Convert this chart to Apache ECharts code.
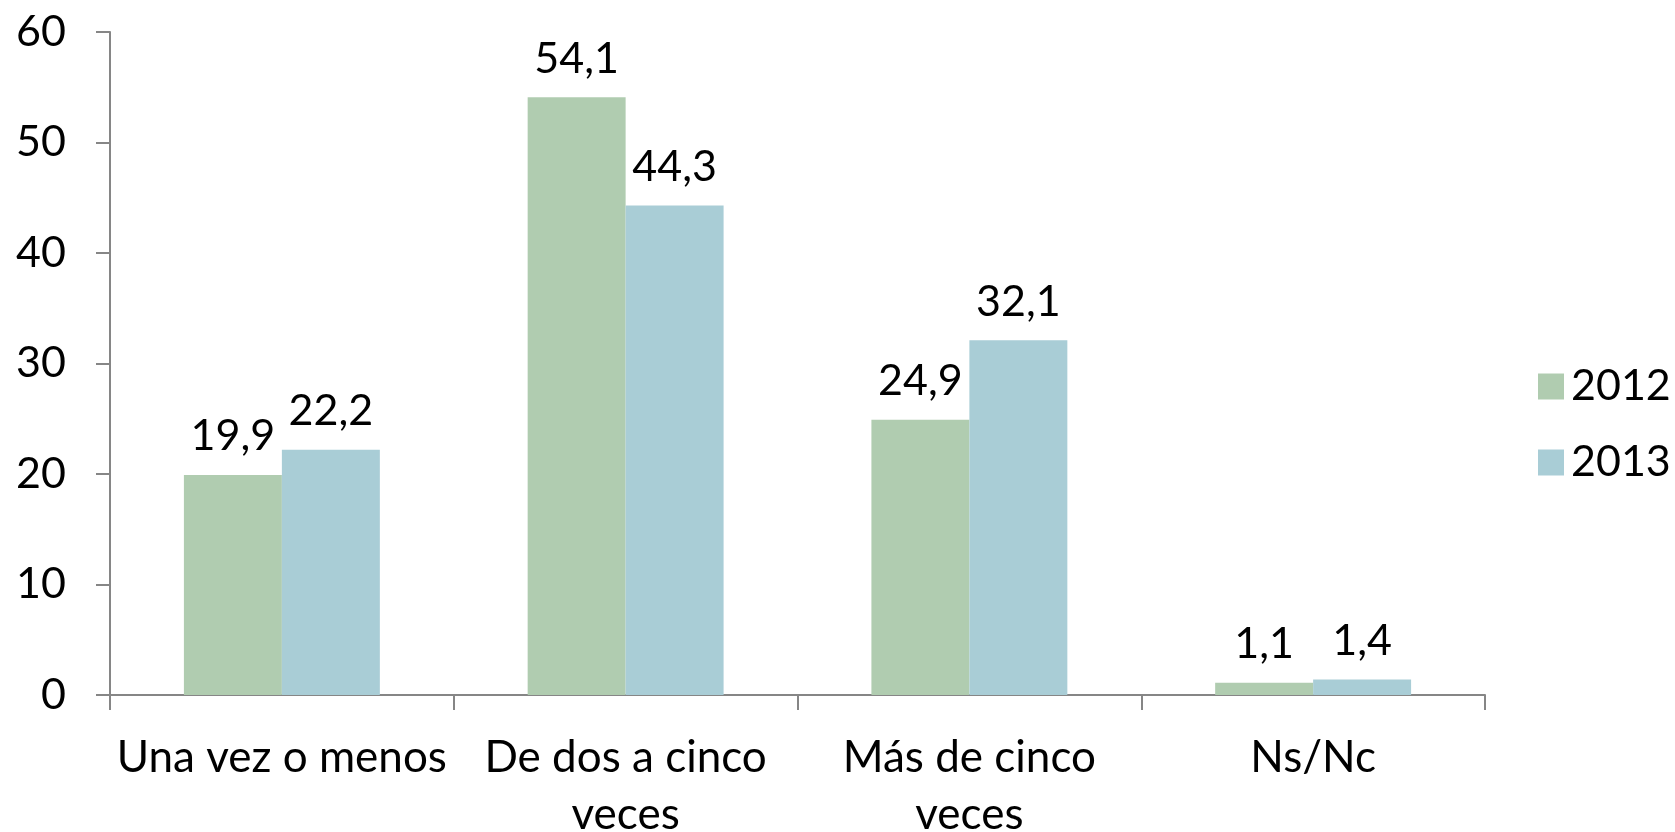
<!DOCTYPE html>
<html>
<head>
<meta charset="utf-8">
<script src="https://cdn.jsdelivr.net/npm/echarts@6/dist/echarts.min.js"></script>
<style>html,body{margin:0;padding:0;background:#fff;overflow:hidden;}#c{width:1675px;height:832px;}</style>
</head>
<body>
<div id="c"></div>
<script>
const categories = ['Una vez o menos', 'De dos a cinco\nveces', 'Más de cinco\nveces', 'Ns/Nc'];
const values2012 = [19.9, 54.1, 24.9, 1.1];
const values2013 = [22.2, 44.3, 32.1, 1.4];
const yTicks = [0, 10, 20, 30, 40, 50, 60];

const FONT = 'Lato';
const FS = 43;
const chart = echarts.init(document.getElementById('c'), null, {renderer: 'canvas'});
const lbl = {
  show: true, position: 'top', distance: 17,
  fontFamily: FONT, fontSize: FS, color: '#000',
  formatter: p => String(p.value).replace('.', ',')
};
chart.setOption({
  animation: false,
  backgroundColor: '#fff',
  textStyle: {fontFamily: FONT},
  grid: {left: 110, width: 1375, top: 32, height: 663, containLabel: false, outerBoundsMode: 'none'},
  legend: {
    orient: 'vertical', left: 1533, top: 360,
    itemWidth: 26, itemHeight: 26, itemGap: 33,
    icon: 'rect',
    textStyle: {fontFamily: FONT, fontSize: FS, color: '#000', padding: [0, 0, 0, 2]},
    data: ['2012', '2013']
  },
  xAxis: {
    type: 'category', data: categories,
    axisLine: {lineStyle: {color: '#868686', width: 2}},
    axisTick: {show: true, length: 15, lineStyle: {color: '#868686', width: 2}},
    axisLabel: {fontFamily: FONT, fontSize: 44, color: '#000', margin: 34, lineHeight: 57, interval: 0}
  },
  yAxis: {
    type: 'value', min: yTicks[0], max: yTicks[yTicks.length - 1], interval: 10,
    axisLine: {show: true, lineStyle: {color: '#868686', width: 2}},
    axisTick: {show: true, length: 14, lineStyle: {color: '#868686', width: 2}},
    splitLine: {show: false},
    axisLabel: {fontFamily: FONT, fontSize: FS, color: '#000', margin: 44}
  },
  series: [
    {name: '2012', type: 'bar', data: values2012, barGap: '0%', barCategoryGap: '43%',
     itemStyle: {color: '#B0CCB0'}, label: lbl},
    {name: '2013', type: 'bar', data: values2013, barGap: '0%', barCategoryGap: '43%',
     itemStyle: {color: '#A9CDD6'}, label: lbl}
  ]
});
</script>
</body>
</html>
